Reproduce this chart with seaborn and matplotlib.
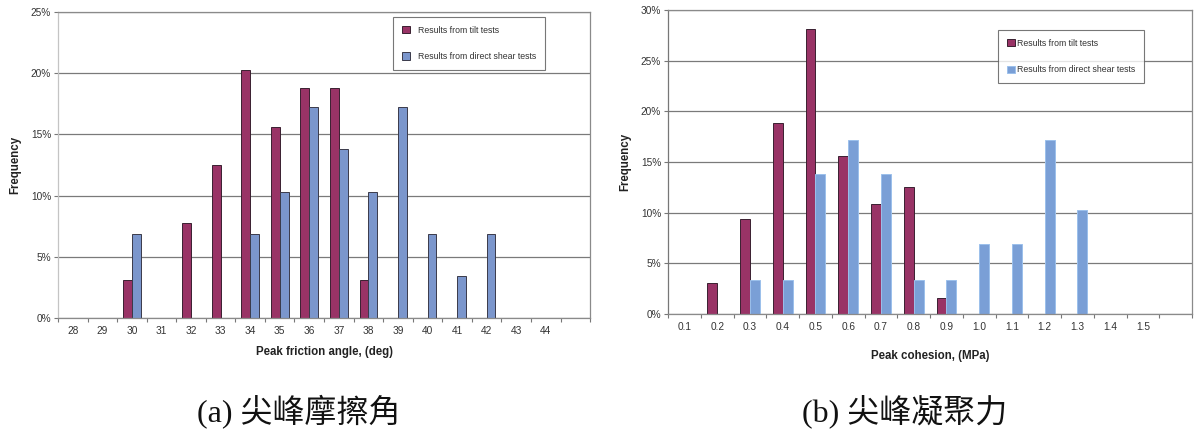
import numpy as np
import pandas as pd
import matplotlib
matplotlib.use("Agg")
import matplotlib.pyplot as plt
import seaborn as sns
from matplotlib.ticker import PercentFormatter, MultipleLocator

# Frequency distributions (%) of peak shear-strength parameters
series_names = ["Results from tilt tests", "Results from direct shear tests"]

friction_cats = ["28", "29", "30", "31", "32", "33", "34", "35", "36",
                 "37", "38", "39", "40", "41", "42", "43", "44"]
friction_tilt = [0, 0, 3.1, 0, 7.8, 12.5, 20.3, 15.6, 18.8,
                 18.8, 3.1, 0, 0, 0, 0, 0, 0]
friction_shear = [0, 0, 6.9, 0, 0, 0, 6.9, 10.3, 17.2,
                  13.8, 10.3, 17.2, 6.9, 3.4, 6.9, 0, 0]

cohesion_cats = ["0.1", "0.2", "0.3", "0.4", "0.5", "0.6", "0.7", "0.8",
                 "0.9", "1.0", "1.1", "1.2", "1.3", "1.4", "1.5"]
cohesion_tilt = [0, 3.1, 9.4, 18.8, 28.1, 15.6, 10.9, 12.5,
                 1.6, 0, 0, 0, 0, 0, 0]
cohesion_shear = [0, 0, 3.4, 3.4, 13.8, 17.2, 13.8, 3.4,
                  3.4, 6.9, 6.9, 17.2, 10.3, 0, 0]

captions = ["(a) 尖峰摩擦角", "(b) 尖峰凝聚力"]

sns.set_style("white")
plt.rcParams["font.family"] = ["Liberation Sans", "DejaVu Sans"]

TILT_COLOR = "#993366"


def long_table(cats, tilt, shear):
    rows = []
    for name, vals in zip(series_names, (tilt, shear)):
        for c, v in zip(cats, vals):
            if v > 0:
                rows.append({"cat": c, "freq": v, "series": name})
    return pd.DataFrame(rows)


def draw_panel(ax, cats, tilt, shear, ymax, shear_color, shear_edge,
               left_spine, xlabel, xpad, legend_anchor, text_pad):
    df = long_table(cats, tilt, shear)
    sns.barplot(data=df, x="cat", y="freq", hue="series", order=cats,
                hue_order=series_names,
                palette=[TILT_COLOR, shear_color], width=0.6, gap=0,
                saturation=1, linewidth=0.7, ax=ax, legend=False)
    for i, (cont, edge) in enumerate(zip(ax.containers, ["#3a2030", shear_edge])):
        for p in cont.patches:
            p.set_edgecolor(edge)
        cont.set_label(series_names[i])

    n = len(cats)
    ax.set_xlim(-0.5, n + 0.5)
    ax.set_ylim(0, ymax)
    ax.yaxis.set_major_locator(MultipleLocator(5))
    ax.yaxis.set_major_formatter(PercentFormatter(decimals=0))
    ax.grid(axis="y", color="#7a7a7a", linewidth=0.9)
    ax.set_axisbelow(True)

    ax.set_xticks(np.arange(-0.5, n + 1.0, 1.0), minor=True)
    ax.tick_params(axis="x", which="major", length=0, pad=6,
                   labelsize=7.3, labelcolor="#333333")
    ax.tick_params(axis="x", which="minor", length=3, width=0.8,
                   color="#777777", direction="out", bottom=True)
    ax.tick_params(axis="y", length=3, width=0.8, color="#777777",
                   direction="out", left=True, labelsize=7.3,
                   labelcolor="#333333", pad=2)

    for side in ("top", "right", "bottom"):
        ax.spines[side].set_color("#8a8a8a")
        ax.spines[side].set_linewidth(0.9)
    ax.spines["left"].set_color(left_spine)
    ax.spines["left"].set_linewidth(0.9)

    ax.set_xlabel(xlabel, fontsize=8.3, fontweight="bold", color="#222222",
                  labelpad=xpad)
    ax.set_ylabel("Frequency", fontsize=8.3, fontweight="bold",
                  color="#222222", labelpad=7)

    leg = ax.legend(handles=list(ax.containers), labels=series_names,
                    loc="upper left", bbox_to_anchor=legend_anchor,
                    frameon=True, fancybox=False, fontsize=6.3,
                    handlelength=0.9, handleheight=0.9,
                    labelspacing=2.0, borderpad=1.0,
                    handletextpad=text_pad, borderaxespad=0)
    leg.get_frame().set_edgecolor("#555555")
    leg.get_frame().set_linewidth(0.8)
    for t in leg.get_texts():
        t.set_color("#333333")


fig = plt.figure(figsize=(11.94, 4.33), dpi=100)
ax1 = fig.add_axes([0.0486, 0.2656, 0.4456, 0.7067])
ax2 = fig.add_axes([0.5595, 0.2748, 0.4389, 0.7021])

draw_panel(ax1, friction_cats, friction_tilt, friction_shear, 25,
           "#7b96cc", "#3a3a4a", "#c4c4c4", "Peak friction angle, (deg)", 7,
           (0.63, 0.984), 0.9)
draw_panel(ax2, cohesion_cats, cohesion_tilt, cohesion_shear, 30,
           "#7a9fd6", "#9cc0ec", "#777777", "Peak cohesion, (MPa)", 13,
           (0.63, 0.934), 0.2)

for x, text in zip((0.25, 0.758), captions):
    fig.text(x, 0.05, text, ha="center", va="center", fontsize=23,
             family=["Liberation Serif", "Noto Sans CJK TC"], color="#111111")

fig.savefig("out.png", dpi=100)
